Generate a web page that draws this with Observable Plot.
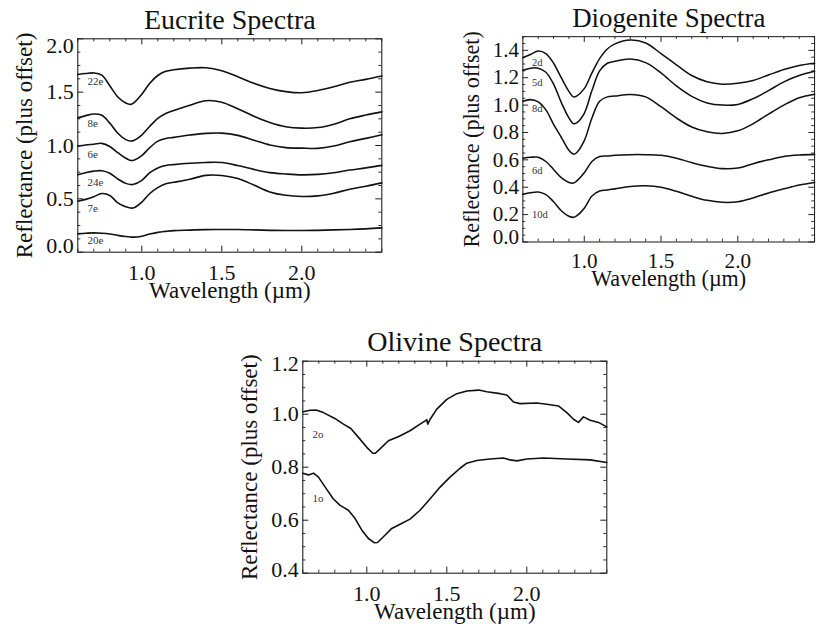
<!DOCTYPE html>
<html>
<head>
<meta charset="utf-8">
<script src="https://cdn.jsdelivr.net/npm/d3@7"></script>
<script src="https://cdn.jsdelivr.net/npm/@observablehq/plot@0.6"></script>
<style>
html,body{margin:0;padding:0;background:#fff;overflow:hidden;width:823px;height:630px;}
#wrap{position:relative;width:823px;height:630px;overflow:hidden;background:#fff;}
.panel{position:absolute;}
.panel svg, .panel svg text{font-family:"Liberation Serif","Times New Roman",serif !important;}
</style>
</head>
<body>
<div id="wrap"></div>
<script>
// ---------- data ----------
const wavelengths = [0.6,0.65,0.7,0.75,0.8,0.85,0.9,0.93,0.95,1.0,1.05,1.1,1.15,1.2,1.3,1.4,1.5,1.6,1.7,1.8,1.9,2.0,2.1,2.2,2.3,2.4,2.5];

// Eucrite spectra (reflectance plus offset)
const eucrite22e = [1.666,1.675,1.68,1.66,1.56,1.455,1.398,1.385,1.40,1.48,1.584,1.656,1.695,1.71,1.725,1.728,1.70,1.645,1.583,1.535,1.505,1.494,1.515,1.55,1.593,1.62,1.652];
const eucrite8e  = [1.259,1.28,1.295,1.283,1.21,1.115,1.055,1.042,1.047,1.098,1.18,1.254,1.30,1.328,1.378,1.42,1.406,1.344,1.275,1.215,1.175,1.1625,1.168,1.20,1.25,1.285,1.315];
const eucrite6e  = [0.994,1.005,1.012,1.02,0.99,0.933,0.88,0.86,0.862,0.906,0.98,1.041,1.066,1.076,1.098,1.114,1.116,1.095,1.05,1.005,0.98,0.975,0.973,0.995,1.036,1.067,1.10];
const eucrite24e = [0.725,0.745,0.76,0.764,0.74,0.686,0.645,0.634,0.636,0.674,0.745,0.79,0.813,0.821,0.833,0.841,0.840,0.812,0.776,0.746,0.733,0.725,0.729,0.745,0.77,0.79,0.814];
const eucrite7e  = [0.478,0.495,0.52,0.55,0.532,0.462,0.425,0.414,0.416,0.47,0.55,0.605,0.641,0.655,0.684,0.72,0.719,0.69,0.63,0.565,0.533,0.522,0.528,0.553,0.59,0.618,0.65];
const eucrite20e = [0.172,0.177,0.181,0.178,0.171,0.158,0.147,0.142,0.141,0.15,0.17,0.186,0.195,0.202,0.207,0.212,0.2125,0.2125,0.209,0.205,0.203,0.203,0.205,0.209,0.213,0.219,0.228];
const eucriteNames = ["22e","8e","6e","24e","7e","20e"];
const eucriteLabelY = [1.60,1.206,0.916,0.656,0.41,0.11];

// Diogenite spectra
const diogenite2d  = [1.346,1.37,1.395,1.376,1.306,1.20,1.10,1.06,1.066,1.12,1.235,1.34,1.41,1.447,1.475,1.454,1.376,1.294,1.216,1.17,1.153,1.16,1.18,1.22,1.26,1.29,1.306];
const diogenite5d  = [1.254,1.27,1.27,1.24,1.153,1.02,0.906,0.864,0.87,0.94,1.106,1.25,1.306,1.32,1.336,1.31,1.235,1.14,1.064,1.016,1.0,1.005,1.047,1.106,1.17,1.216,1.247];
const diogenite8d  = [1.028,1.04,1.024,0.965,0.86,0.765,0.67,0.642,0.652,0.74,0.906,1.028,1.06,1.066,1.078,1.06,0.988,0.906,0.84,0.805,0.793,0.812,0.864,0.934,1.0,1.054,1.08];
const diogenite6d  = [0.612,0.619,0.619,0.588,0.53,0.47,0.435,0.43,0.445,0.506,0.588,0.624,0.628,0.633,0.638,0.638,0.633,0.612,0.58,0.553,0.536,0.54,0.572,0.60,0.624,0.635,0.64];
const diogenite10d = [0.348,0.36,0.365,0.346,0.294,0.228,0.188,0.18,0.19,0.247,0.336,0.372,0.38,0.388,0.405,0.41,0.40,0.37,0.334,0.304,0.29,0.294,0.322,0.358,0.388,0.416,0.435];
const diogeniteNames = ["2d","5d","8d","6d","10d"];
const diogeniteLabelY = [1.31,1.164,0.973,0.525,0.20];

// Olivine spectra (own wavelength samples)
const olivine2oWave = [0.6,0.646,0.683,0.729,0.8,0.854,0.9,0.948,1.0,1.0375,1.052,1.083,1.135,1.2,1.27,1.333,1.365,1.375,1.381,1.396,1.4375,1.5,1.5625,1.625,1.7,1.75,1.833,1.875,1.917,1.958,2.0625,2.125,2.198,2.25,2.292,2.323,2.354,2.396,2.448,2.5];
const olivine2o     = [1.009,1.015,1.016,1.006,0.984,0.9625,0.946,0.9125,0.875,0.8525,0.8525,0.869,0.90,0.916,0.9375,0.9625,0.975,0.979,0.9625,0.981,1.019,1.056,1.0775,1.0875,1.091,1.085,1.0775,1.0725,1.046,1.04,1.0425,1.0375,1.031,1.006,0.981,0.969,0.99,0.9775,0.969,0.952];
const olivine1oWave = [0.6,0.635,0.667,0.698,0.74,0.79,0.833,0.885,0.927,0.969,1.01,1.046,1.067,1.104,1.156,1.208,1.27,1.333,1.396,1.458,1.52,1.583,1.625,1.6875,1.77,1.854,1.896,1.9375,2.0,2.104,2.25,2.396,2.5];
const olivine1o     = [0.7775,0.771,0.7775,0.7625,0.725,0.681,0.656,0.6375,0.606,0.5625,0.531,0.515,0.516,0.5375,0.569,0.585,0.604,0.6375,0.681,0.725,0.7625,0.796,0.815,0.825,0.831,0.835,0.8275,0.824,0.831,0.835,0.831,0.8275,0.818];
const olivineNames = ["2o","1o"];
const olivineLabelY = [0.923,0.682];

const labelWavelength = 0.66;
const xTickLabels = [1.0, 1.5, 2.0];
const eucriteYTicks = [0.0, 0.5, 1.0, 1.5, 2.0];
const diogeniteYTicks = [0.0, 0.2, 0.4, 0.6, 0.8, 1.0, 1.2, 1.4];
const olivineYTicks = [0.4, 0.6, 0.8, 1.0, 1.2];

// ---------- build ----------
const FONT = '"Liberation Serif", "Times New Roman", serif';
const INK = "#1a1a1a";

function rowsFrom(names, waves, values) {
  const rows = [];
  names.forEach((n, i) => waves[i].forEach((w, j) => rows.push({name: n, w, r: values[i][j]})));
  return rows;
}

function panel(cfg) {
  const {title, rows, names, labelY, yDomain, yTicks, yMinorStep, xDomain,
         width, height, mt, mr, mb, ml, curve, edgeDy} = cfg;
  const H = height - mt - mb, W = width - ml - mr;
  const xMinor = d3.range(Math.round(xDomain[0]*10), Math.round(xDomain[1]*10) + 1).map(d => d / 10);
  const nMin = Math.round((yDomain[1] - yDomain[0]) / yMinorStep);
  const yMinor = d3.range(0, nMin + 1).map(i => +(yDomain[0] + i * yMinorStep).toFixed(4));
  const MAJ = 6, MIN = 3;
  const isMajX = d => xTickLabels.some(t => Math.abs(t - d) < 1e-6);
  const isMajY = d => yTicks.some(t => Math.abs(t - d) < 1e-6);
  const labels = names.map((n, i) => ({name: n, w: labelWavelength, r: labelY[i]}));
  const inner = yTicks.filter(t => t > yDomain[0] + 1e-6 && t < yDomain[1] - 1e-6);
  const lo = yTicks.filter(t => Math.abs(t - yDomain[0]) < 1e-6);
  const hi = yTicks.filter(t => Math.abs(t - yDomain[1]) < 1e-6);
  const fmt = d => d.toFixed(1);
  const yAxisOpts = {tickSize: 0, tickPadding: 4, tickFormat: fmt, fontSize: 22, fontFamily: FONT, fill: "#111"};

  return Plot.plot({
    width, height,
    marginTop: mt, marginRight: mr, marginBottom: mb, marginLeft: ml,
    style: {fontFamily: FONT, background: "transparent", color: "#111"},
    x: {domain: xDomain, label: null},
    y: {domain: yDomain, label: null},
    marks: [
      // tick marks, inward on all four sides
      Plot.tickX(xMinor.filter(d => !isMajX(d)), {x: d => d, insetTop: H - MIN, stroke: INK, strokeWidth: 0.9}),
      Plot.tickX(xMinor.filter(d => !isMajX(d)), {x: d => d, insetBottom: H - MIN, stroke: INK, strokeWidth: 0.9}),
      Plot.tickX(xTickLabels, {x: d => d, insetTop: H - MAJ, stroke: INK, strokeWidth: 1}),
      Plot.tickX(xTickLabels, {x: d => d, insetBottom: H - MAJ, stroke: INK, strokeWidth: 1}),
      Plot.tickY(yMinor.filter(d => !isMajY(d)), {y: d => d, insetRight: W - MIN, stroke: INK, strokeWidth: 0.9}),
      Plot.tickY(yMinor.filter(d => !isMajY(d)), {y: d => d, insetLeft: W - MIN, stroke: INK, strokeWidth: 0.9}),
      Plot.tickY(yTicks, {y: d => d, insetRight: W - MAJ, stroke: INK, strokeWidth: 1}),
      Plot.tickY(yTicks, {y: d => d, insetLeft: W - MAJ, stroke: INK, strokeWidth: 1}),
      Plot.frame({stroke: "#222", strokeWidth: 1.1}),
      // spectra
      Plot.line(rows, {x: "w", y: "r", z: "name", stroke: "#111", strokeWidth: 1.6, curve}),
      // sample labels
      Plot.text(labels, {x: "w", y: "r", text: "name", textAnchor: "start", lineAnchor: "middle", fontSize: 11, fontFamily: FONT, fill: "#333"}),
      // axes
      Plot.axisX(xTickLabels, {tickSize: 0, tickPadding: 12, tickFormat: fmt, fontSize: 22, fontFamily: FONT, fill: "#111", label: null}),
      Plot.axisY(inner, {...yAxisOpts, label: null}),
      Plot.axisY(lo, {...yAxisOpts, dy: edgeDy[0], label: null}),
      Plot.axisY(hi, {...yAxisOpts, dy: edgeDy[1], label: null}),
      // titles and axis names
      Plot.text([title], {text: d => d, frameAnchor: "top", dy: -10, lineAnchor: "bottom", fontSize: 28, fontFamily: FONT, fill: "#111"}),
      Plot.text(["Wavelength (\u00b5m)"], {text: d => d, frameAnchor: "bottom", dy: 46, lineAnchor: "bottom", fontSize: 23, fontFamily: FONT, fill: "#111"}),
      Plot.text(["Reflectance (plus offset)"], {text: d => d, frameAnchor: "left", rotate: -90, dx: -53, lineAnchor: "middle", textAnchor: "middle", fontSize: 23, fontFamily: FONT, fill: "#111"})
    ]
  });
}

const wrap = document.getElementById("wrap");
function place(node, left, top) {
  const d = document.createElement("div");
  d.className = "panel";
  d.style.left = left + "px";
  d.style.top = top + "px";
  d.appendChild(node);
  wrap.appendChild(d);
}

const eucRows = rowsFrom(eucriteNames, eucriteNames.map(() => wavelengths),
  [eucrite22e, eucrite8e, eucrite6e, eucrite24e, eucrite7e, eucrite20e]);
const dioRows = rowsFrom(diogeniteNames, diogeniteNames.map(() => wavelengths),
  [diogenite2d, diogenite5d, diogenite8d, diogenite6d, diogenite10d]);
const oliRows = rowsFrom(olivineNames, [olivine2oWave, olivine1oWave], [olivine2o, olivine1o]);

place(panel({
  title: "Eucrite Spectra", rows: eucRows, names: eucriteNames, labelY: eucriteLabelY,
  yDomain: [0, 2], yTicks: eucriteYTicks, yMinorStep: 0.125, xDomain: [0.6, 2.5],
  width: 400, height: 310, mt: 38.3, mr: 18.7, mb: 58.3, ml: 77.3,
  curve: "catmull-rom", edgeDy: [-6, 7.5]
}), 0, 0);

place(panel({
  title: "Diogenite Spectra", rows: dioRows, names: diogeniteNames, labelY: diogeniteLabelY,
  yDomain: [0, 1.5], yTicks: diogeniteYTicks, yMinorStep: 0.05, xDomain: [0.6, 2.5],
  width: 420, height: 310, mt: 37.7, mr: 9.3, mb: 58.3, ml: 106.7,
  curve: "catmull-rom", edgeDy: [-5, 0]
}), 420, 0);

place(panel({
  title: "Olivine Spectra", rows: oliRows, names: olivineNames, labelY: olivineLabelY,
  yDomain: [0.4, 1.2], yTicks: olivineYTicks, yMinorStep: 0.05, xDomain: [0.6, 2.5],
  width: 400, height: 310, mt: 40.7, mr: 13.7, mb: 57.3, ml: 82.3,
  curve: "linear", edgeDy: [-3, 3]
}), 220, 320);
</script>
</body>
</html>
